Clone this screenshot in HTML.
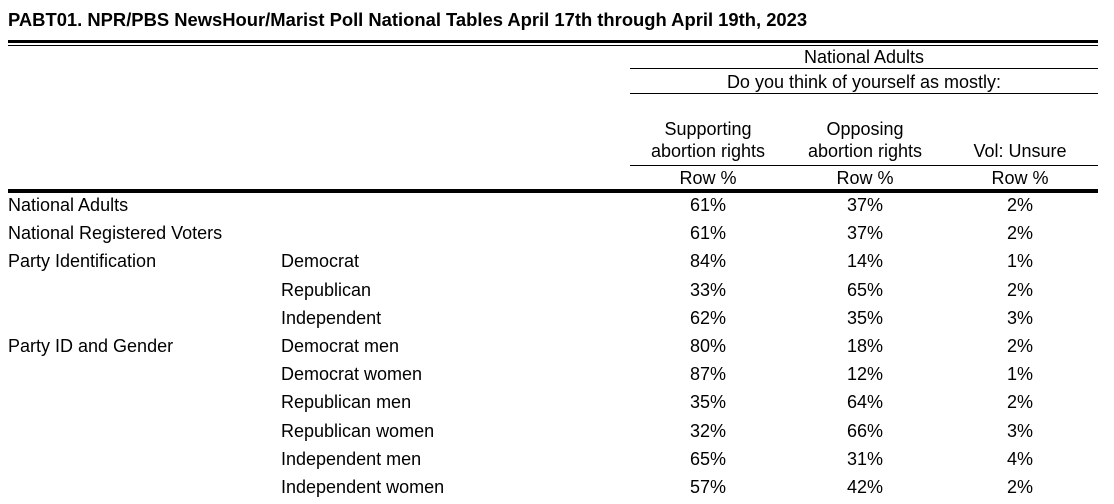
<!DOCTYPE html>
<html><head><style>
body{margin:0;width:1114px;height:504px;background:#fff;font-family:"Liberation Sans",Arial,sans-serif;color:#000;position:relative;overflow:hidden}
.t{position:absolute;font-size:18px;line-height:20px;white-space:nowrap}
.c{position:absolute;font-size:18px;line-height:22px;text-align:center;width:160px;white-space:nowrap}
.l{position:absolute;background:#000}
</style></head><body>
<div class="t" style="left:8px;top:10px;font-weight:bold;font-size:18.4px">PABT01. NPR/PBS NewsHour/Marist Poll National Tables April 17th through April 19th, 2023</div>
<div class="l" style="left:8px;top:40px;width:1090px;height:3px"></div>
<div class="l" style="left:8px;top:45px;width:1090px;height:1px"></div>
<div class="t" style="left:630px;width:468px;text-align:center;top:47px">National Adults</div>
<div class="l" style="left:630px;top:68px;width:468px;height:1px"></div>
<div class="t" style="left:630px;width:468px;text-align:center;top:72px">Do you think of yourself as mostly:</div>
<div class="l" style="left:630px;top:93px;width:468px;height:1px"></div>
<div class="c" style="left:628px;top:118px">Supporting<br>abortion rights</div>
<div class="c" style="left:785px;top:118px">Opposing<br>abortion rights</div>
<div class="c" style="left:940px;top:140px">Vol: Unsure</div>
<div class="l" style="left:630px;top:165px;width:468px;height:1px"></div>
<div class="c" style="left:628px;top:167px">Row %</div>
<div class="c" style="left:785px;top:167px">Row %</div>
<div class="c" style="left:940px;top:167px">Row %</div>
<div class="l" style="left:8px;top:189px;width:1090px;height:4px"></div>
<div id="rows"></div>
<script>
var d=[["National Adults","","61%","37%","2%"],["National Registered Voters","","61%","37%","2%"],["Party Identification","Democrat","84%","14%","1%"],["","Republican","33%","65%","2%"],["","Independent","62%","35%","3%"],["Party ID and Gender","Democrat men","80%","18%","2%"],["","Democrat women","87%","12%","1%"],["","Republican men","35%","64%","2%"],["","Republican women","32%","66%","3%"],["","Independent men","65%","31%","4%"],["","Independent women","57%","42%","2%"]];
var h="";d.forEach(function(r,i){var y=195+i*28.2;
h+='<div class="t" style="left:8px;top:'+y+'px">'+r[0]+'</div><div class="t" style="left:281px;top:'+y+'px">'+r[1]+'</div><div class="c" style="left:628px;top:'+(y-1)+'px">'+r[2]+'</div><div class="c" style="left:785px;top:'+(y-1)+'px">'+r[3]+'</div><div class="c" style="left:940px;top:'+(y-1)+'px">'+r[4]+'</div>';});
document.getElementById("rows").innerHTML=h;
</script>
</body></html>
